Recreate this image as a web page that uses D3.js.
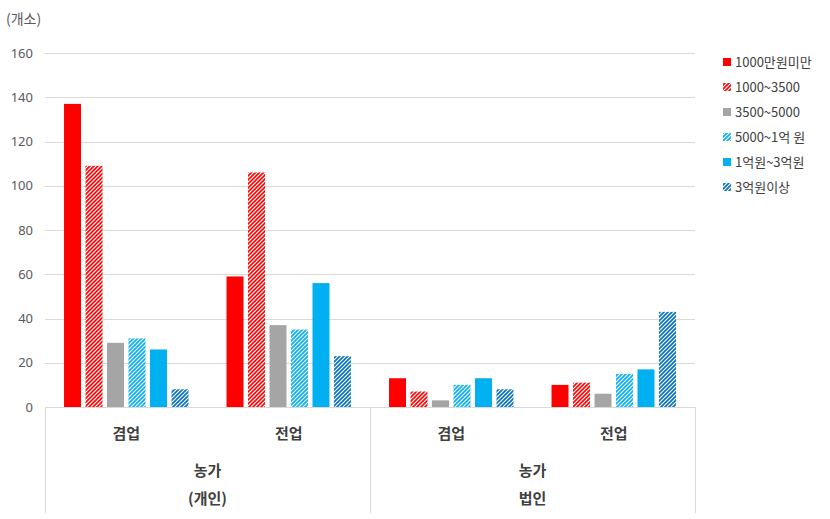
<!DOCTYPE html>
<html><head><meta charset="utf-8">
<script src="https://cdn.jsdelivr.net/npm/d3@7"></script>
<style>
body{margin:0;background:#fff;}
svg{display:block;font-family:"Noto Sans CJK KR","Noto Sans",sans-serif;}
</style></head>
<body><svg id="c" width="830" height="519"></svg>
<script>
const subCategories = ["겸업","전업","겸업","전업"];
const groupLines = [["농가","(개인)"],["농가","법인"]];
const seriesNames = ["1000만원미만","1000~3500","3500~5000","5000~1억 원","1억원~3억원","3억원이상"];
const seriesColors = ["#FF0000","#FF0000","#A5A5A5","#00B0F0","#00B0F0","#0070C0"];
const seriesHatched = [false,true,false,true,false,true];
const s1 = [137,59,13,10];
const s2 = [109,106,7,11];
const s3 = [29,37,3,6];
const s4 = [31,35,10,15];
const s5 = [26,56,13,17];
const s6 = [8,23,8,43];
const series = [s1,s2,s3,s4,s5,s6];
const yTicks = [0,20,40,60,80,100,120,140,160];

const svg = d3.select("#c");
const L=45,R=695,T=53,B=407;
const y = d3.scaleLinear().domain([0,160]).range([B,T]);
const x0 = d3.scaleBand().domain(d3.range(4)).range([L,R]).paddingInner(0).paddingOuter(0);
const x1 = d3.scaleBand().domain(d3.range(6)).range([0,x0.bandwidth()]).paddingInner(0.21).paddingOuter(0.885);

const defs = svg.append("defs");
seriesColors.forEach((c,i)=>{
  if(!seriesHatched[i]) return;
  const p = defs.append("pattern").attr("id","h"+i).attr("patternUnits","userSpaceOnUse").attr("width",4).attr("height",4);
  p.append("rect").attr("width",4).attr("height",4).attr("fill","#fff");
  p.append("path").attr("d","M-1,1 l2,-2 M0,4 l4,-4 M3,5 l2,-2").attr("stroke",c).attr("stroke-width",1.6);
});

// grid
svg.append("g").selectAll("line").data(yTicks.filter(d=>d>0)).join("line")
  .attr("x1",L).attr("x2",R).attr("y1",d=>Math.round(y(d))+0.5).attr("y2",d=>Math.round(y(d))+0.5)
  .attr("stroke","#D9D9D9").attr("stroke-width",1);

// y axis labels
const ya = svg.append("g").attr("transform",`translate(${L},0)`).call(d3.axisLeft(y).tickValues(yTicks).tickSize(0).tickPadding(12));
ya.select(".domain").remove();
ya.selectAll("text").attr("font-family","'Noto Sans','Liberation Sans',sans-serif").attr("font-size",13).attr("fill","#595959");

svg.append("text").attr("x",6).attr("y",24).text("(개소)").attr("font-size",14).attr("fill","#595959");

// bars
series.forEach((vals,i)=>{
  svg.append("g").selectAll("rect").data(vals).join("rect")
    .attr("x",(d,j)=>x0(j)+x1(i)).attr("width",x1.bandwidth())
    .attr("y",d=>y(d)).attr("height",d=>B-y(d))
    .attr("fill",seriesHatched[i]?`url(#h${i})`:seriesColors[i]);
});

// x axis line and separators
svg.append("line").attr("x1",L).attr("x2",R).attr("y1",B+0.5).attr("y2",B+0.5).attr("stroke","#D9D9D9");
[L,x0(2),R].forEach(xx=>{
  svg.append("line").attr("x1",Math.round(xx)+0.5).attr("x2",Math.round(xx)+0.5).attr("y1",B).attr("y2",513).attr("stroke","#D9D9D9");
});

// category labels
svg.append("g").selectAll("text").data(subCategories).join("text")
  .attr("x",(d,j)=>x0(j)+x0.bandwidth()/2).attr("y",439).attr("text-anchor","middle")
  .attr("font-size",15).attr("font-weight","bold").attr("fill","#404040").text(d=>d);
groupLines.forEach((lines,g)=>{
  const cx = x0(g*2)+x0.bandwidth();
  lines.forEach((t,k)=>{
    svg.append("text").attr("x",cx).attr("y",476+k*28).attr("text-anchor","middle")
      .attr("font-size",15).attr("font-weight","bold").attr("fill","#404040").text(t);
  });
});

// legend
const lg = svg.append("g");
seriesNames.forEach((n,i)=>{
  const yy = 62+i*25;
  lg.append("rect").attr("x",723).attr("y",yy-4).attr("width",8).attr("height",8)
    .attr("fill",seriesHatched[i]?`url(#h${i})`:seriesColors[i]);
  lg.append("text").attr("x",735).attr("y",yy+5).attr("font-size",13).attr("fill","#404040").text(n);
});
</script></body></html>
